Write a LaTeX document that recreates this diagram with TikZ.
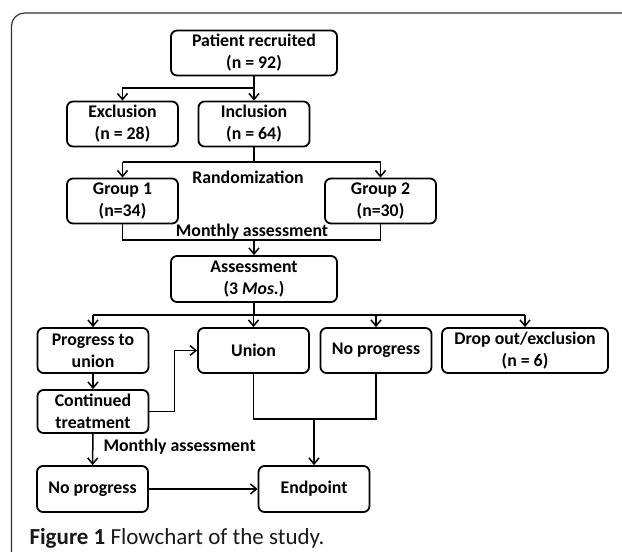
\documentclass[tikz,border=0pt]{standalone}
\usepackage{fontspec}
\setmainfont{Carlito}
\usetikzlibrary{arrows.meta}

\begin{document}
\begin{tikzpicture}[x=1pt,y=-1pt]

% ---------- parameters ----------
\def\bw{111}
\def\ww{166}

% ---------- styles ----------
\tikzset{
  box/.style ={draw=black,line width=1.8pt,rounded corners=6pt,minimum height=45pt,
               minimum width=\bw pt,align=center,inner sep=2pt,
               font=\fontsize{17.8}{22}\selectfont\bfseries},
  wbox/.style={box,minimum width=\ww pt},
  link/.style={draw=black,line width=1.5pt},
  arr/.style ={link,-{Straight Barb[length=6pt,width=10pt,line width=1.5pt]}},
  lbl/.style ={font=\fontsize{17.8}{22}\selectfont\bfseries}
}

\useasboundingbox (0,0) rectangle (622,552);

% ---------- frame ----------
\draw[line width=1.2pt,black!80,rounded corners=13pt] (622,13) -- (11.5,13) -- (11.5,552);

% ---------- boxes ----------
\node[wbox] (patient) at (254,53)    {Patient recruited\\(n = 92)};
\node[box]  (excl)    at (122.5,124) {Exclusion\\(n = 28)};
\node[box]  (incl)    at (254,124)   {Inclusion\\(n = 64)};
\node[box]  (grpA)    at (122.5,201) {Group 1\\(n=34)};
\node[box]  (grpB)    at (380.5,201) {Group 2\\(n=30)};
\node[wbox,minimum height=46pt] (assess) at (254,279) {Assessment\\(3 \textit{Mos.})};
\node[box]  (prog)    at (93,350.5)    {Progress to\\union};
\node[box]  (union)   at (253.5,350.5) {Union};
\node[box]  (noprog)  at (376,350.5)   {No progress};
\node[wbox] (drop)    at (525,350.5)   {Drop out/exclusion\\(n = 6)};
\node[box,minimum height=43pt] (cont) at (93,411.5) {Continued\\treatment};
\node[box,minimum height=46pt] (noprogB) at (92.5,489) {No progress};
\node[box,minimum height=46pt] (endp)    at (314,489)  {Endpoint};

% ---------- labels ----------
\node[lbl] (rand)   at (248,177) {Randomization};
\node[lbl] (monthA) at (252,232) {Monthly assessment};
\node[lbl,anchor=west] (monthB) at (100,447) {Monthly assessment};

% ---------- split points ----------
\coordinate (sA) at (254,88);
\coordinate (sB) at (254,162);
\coordinate (sC) at (254,240);
\coordinate (sD) at (254,315);
\coordinate (sE) at (314,419);

% ---------- connectors ----------
\draw[link] (patient.south) -- (sA);
\draw[arr]  (sA) -| (excl.north);
\draw[arr]  (sA) -- (incl.north);

\draw[link] (incl.south) -- (sB);
\draw[link] (grpA.north |- sB) -- (grpB.north |- sB);
\draw[arr]  (grpA.north |- sB) -- (grpA.north);
\draw[arr]  (grpB.north |- sB) -- (grpB.north);

\draw[link] (grpA.south) |- (sC) -| (grpB.south);
\draw[arr]  (sC) -- (assess.north);

\draw[link] (assess.south) -- (sD);
\draw[link] (prog.north |- sD) -- (drop.north |- sD);
\foreach \n in {prog,union,noprog,drop}
  \draw[arr] (\n.north |- sD) -- (\n.north);

\draw[arr]  (prog) -- (cont);
\draw[arr]  (cont.east) -- ++(25,0) |- (union.west);
\draw[arr]  (cont) -- (noprogB);

\draw[link] (union.south) |- (sE);
\draw[link] (noprog.south) |- (sE);
\draw[arr]  (sE) -- (endp.north);
\draw[arr]  (noprogB) -- (endp);

% ---------- caption ----------
\node[anchor=west,font=\fontsize{23}{26}\selectfont,text=black!90] (cap) at (26,538)
  {\textbf{Figure 1} Flowchart of the study.};

\end{tikzpicture}
\end{document}
